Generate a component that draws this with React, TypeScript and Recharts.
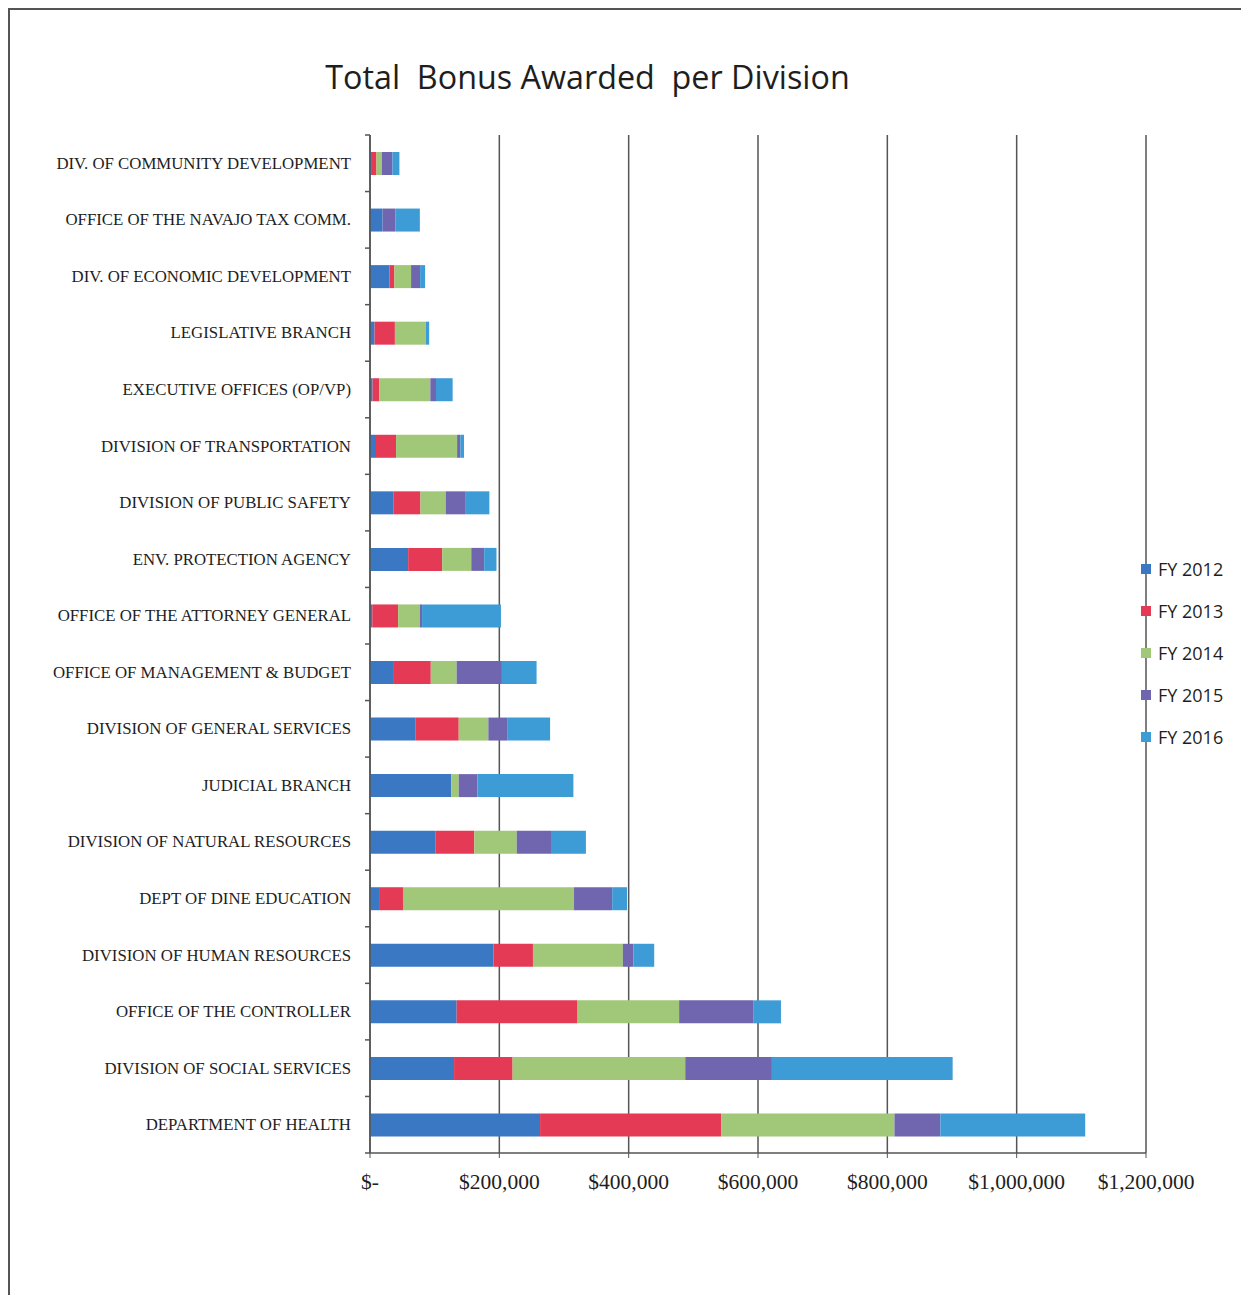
import React from "react";
import { BarChart, Bar, XAxis, YAxis, CartesianGrid, Legend } from "recharts";

const divisions = [
  "DIV. OF COMMUNITY DEVELOPMENT",
  "OFFICE OF THE NAVAJO TAX COMM.",
  "DIV. OF ECONOMIC DEVELOPMENT",
  "LEGISLATIVE BRANCH",
  "EXECUTIVE OFFICES (OP/VP)",
  "DIVISION OF TRANSPORTATION",
  "DIVISION OF PUBLIC SAFETY",
  "ENV. PROTECTION AGENCY",
  "OFFICE OF THE ATTORNEY GENERAL",
  "OFFICE OF MANAGEMENT & BUDGET",
  "DIVISION OF GENERAL SERVICES",
  "JUDICIAL BRANCH",
  "DIVISION OF NATURAL RESOURCES",
  "DEPT OF DINE EDUCATION",
  "DIVISION OF HUMAN RESOURCES",
  "OFFICE OF THE CONTROLLER",
  "DIVISION OF SOCIAL SERVICES",
  "DEPARTMENT OF HEALTH",
];

const fy2012 = [3000, 19500, 30000, 7000, 4000, 9300, 36000, 59000, 3500, 37000, 70700, 125800, 101600, 14000, 191000, 134000, 130000, 263000];
const fy2013 = [7000, 0, 7700, 31500, 10300, 31000, 42000, 52600, 40000, 57000, 66500, 0, 59700, 37000, 61000, 187000, 90500, 280000];
const fy2014 = [8300, 0, 25800, 48000, 79000, 94400, 39000, 45000, 33500, 40000, 45800, 11400, 65600, 264500, 139000, 157000, 267000, 268000];
const fy2015 = [16400, 19600, 14000, 0, 8800, 5000, 30000, 20000, 3500, 70000, 30000, 28800, 53000, 59000, 16500, 114500, 134000, 71000];
const fy2016 = [10800, 38000, 7700, 5000, 25700, 5700, 37600, 19000, 122000, 53600, 65500, 148500, 54000, 23000, 32000, 43000, 279500, 224000];

const seriesNames = ["FY 2012", "FY 2013", "FY 2014", "FY 2015", "FY 2016"];
const seriesValues = [fy2012, fy2013, fy2014, fy2015, fy2016];
const seriesColors = ["#3b78c4", "#e43a55", "#a0c878", "#7066b0", "#3d9bd6"];
const xTicks = [0, 200000, 400000, 600000, 800000, 1000000, 1200000];

const data = divisions.map((name, i) => {
  const row: Record<string, any> = { name };
  seriesNames.forEach((s, j) => {
    row[s] = seriesValues[j][i];
  });
  return row;
});

const SERIF = "'Liberation Serif', 'DejaVu Serif', serif";
const SANS = "'Open Sans', 'Liberation Sans', sans-serif";
const TICK_SIZE = 6;
const TICK_MARGIN = 13;

const fmtMoney = (v: number) => (v === 0 ? "$-" : "$" + v.toLocaleString("en-US"));

const YTick = (props: any) => {
  const { x, y, payload, index, visibleTicksCount } = props;
  const half = payload && payload.offset ? payload.offset : 0;
  const ax = x + TICK_MARGIN + TICK_SIZE;
  return (
    <g>
      <text
        x={x}
        y={y}
        textAnchor="end"
        dominantBaseline="central"
        fontFamily={SERIF}
        fontSize={16.8}
        fill="#1e1e1e"
      >
        {payload.value}
      </text>
      <line x1={ax - 5} x2={ax} y1={y - half} y2={y - half} stroke="#555" strokeWidth={1.5} />
      {index === visibleTicksCount - 1 && (
        <line x1={ax - 5} x2={ax} y1={y + half} y2={y + half} stroke="#555" strokeWidth={1.5} />
      )}
    </g>
  );
};

const LegendContent = (props: any) => {
  const { payload } = props;
  return (
    <div>
      {(payload || []).map((p: any) => (
        <div
          key={p.value}
          style={{ display: "flex", alignItems: "center", height: 42, fontFamily: SANS, fontSize: 18, color: "#1e1e1e" }}
        >
          <span style={{ display: "inline-block", width: 10, height: 10, background: p.color, marginRight: 7 }} />
          <span>{p.value}</span>
        </div>
      ))}
    </div>
  );
};

export default function App() {
  return (
    <div
      style={{
        position: "relative",
        width: 1239,
        height: 1285,
        borderTop: "2px solid #555",
        borderLeft: "2px solid #555",
        background: "#fff",
      }}
    >
      <div
        style={{
          position: "absolute",
          top: 44,
          left: 0,
          width: 1155,
          textAlign: "center",
          fontFamily: SANS,
          fontSize: 32.3,
          whiteSpace: "pre",
          color: "#1e1e1e",
        }}
      >
        {"Total  Bonus Awarded  per Division"}
      </div>
      <BarChart
        width={1239}
        height={1285}
        data={data}
        layout="vertical"
        margin={{ top: 125, right: 103, bottom: 112, left: 0 }}
        barCategoryGap={0}
      >
        <CartesianGrid horizontal={false} vertical={true} stroke="#555" strokeWidth={1.5} />
        <XAxis
          type="number"
          domain={[0, 1200000]}
          ticks={xTicks}
          tickFormatter={fmtMoney}
          axisLine={{ stroke: "#555", strokeWidth: 1.5 }}
          tickLine={{ stroke: "#555" }}
          tickSize={5}
          tickMargin={16}
          height={30}
          tick={{ fontFamily: SERIF, fontSize: 21.5, fill: "#1e1e1e" }}
          interval={0}
        />
        <YAxis
          type="category"
          dataKey="name"
          width={360}
          axisLine={{ stroke: "#555", strokeWidth: 1.5 }}
          tickLine={false}
          tickSize={TICK_SIZE}
          tickMargin={TICK_MARGIN}
          tick={<YTick />}
          interval={0}
        />
        <Legend
          layout="vertical"
          align="center"
          verticalAlign="middle"
          content={<LegendContent />}
          wrapperStyle={{ position: "absolute", left: 1131, top: 538, width: 110 }}
        />
        {seriesNames.map((s, j) => (
          <Bar key={s} dataKey={s} stackId="a" fill={seriesColors[j]} barSize={23} isAnimationActive={false} />
        ))}
      </BarChart>
    </div>
  );
}
